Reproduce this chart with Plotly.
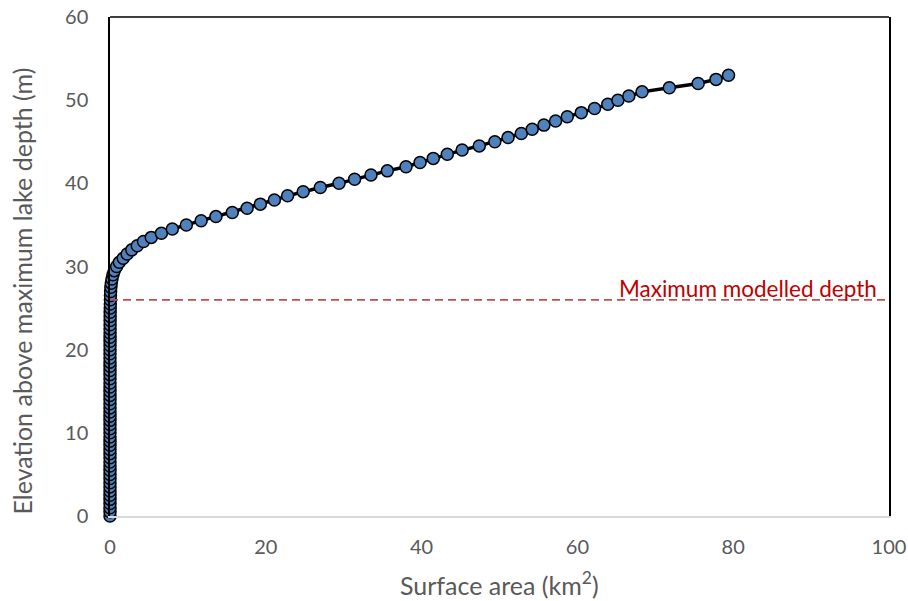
import plotly.graph_objects as go

# Elevation above maximum lake depth (m), every 0.5 m from 0 to 53
elevation = [i * 0.5 for i in range(0, 107)]
# Surface area (km2)
area = [
    # 0 .. 19.5 m
    0.00, 0.00, 0.00, 0.00, 0.00, 0.00, 0.00, 0.00, 0.00, 0.00,
    0.00, 0.00, 0.00, 0.00, 0.00, 0.00, 0.00, 0.00, 0.00, 0.00,
    0.00, 0.00, 0.00, 0.00, 0.00, 0.00, 0.00, 0.00, 0.00, 0.00,
    0.00, 0.00, 0.00, 0.00, 0.00, 0.00, 0.00, 0.00, 0.00, 0.00,
    # 20 .. 24.5 m
    0.005, 0.005, 0.008, 0.008, 0.01, 0.01, 0.012, 0.015, 0.018, 0.02,
    # 25 .. 27.5 m
    0.03, 0.04, 0.05, 0.06, 0.08, 0.11,
    # 28 .. 32.5 m
    0.16, 0.25, 0.38, 0.55, 0.85, 1.20, 1.70, 2.20, 2.80, 3.50,
    # 33 .. 37.5 m
    4.30, 5.30, 6.60, 8.00, 9.80, 11.7, 13.6, 15.7, 17.6, 19.3,
    # 38 .. 42.5 m
    21.1, 22.8, 24.8, 27.0, 29.4, 31.4, 33.5, 35.6, 38.0, 39.8,
    # 43 .. 47.5 m
    41.5, 43.3, 45.2, 47.4, 49.4, 51.1, 52.8, 54.2, 55.7, 57.2,
    # 48 .. 52.5 m
    58.7, 60.5, 62.2, 63.9, 65.2, 66.6, 68.3, 71.8, 75.5, 77.8,
    # 53 m
    79.4,
]

max_depth = 26.0
depth_label = "Maximum modelled depth"
x_title = "Surface area (km<sup>2</sup>)"
y_title = "Elevation above maximum lake depth (m)"
x_ticks = [0, 20, 40, 60, 80, 100]
y_ticks = [0, 10, 20, 30, 40, 50, 60]

font_family = "Lato, Open Sans, sans-serif"
grey = "#595959"

fig = go.Figure()
fig.add_trace(go.Scatter(
    x=area, y=elevation, mode="lines+markers",
    line=dict(color="black", width=3.5),
    marker=dict(size=12, color="#4F81BD", line=dict(color="black", width=1.5)),
    cliponaxis=False, showlegend=False,
))
fig.add_trace(go.Scatter(
    x=[0, 100], y=[max_depth, max_depth], mode="lines",
    line=dict(color="#C0504D", width=1.75, dash="8px,5px"),
    showlegend=False, hoverinfo="skip",
))
fig.add_annotation(
    x=100, y=max_depth, xref="x", yref="y", text=depth_label,
    showarrow=False, xanchor="right", yanchor="bottom", xshift=-10, yshift=-4,
    font=dict(color="#C00000", size=22.5, family=font_family),
)
# axis titles
fig.add_annotation(
    x=0.5, y=0, xref="paper", yref="paper", text=x_title, showarrow=False,
    xanchor="center", yanchor="middle", yshift=-67,
    font=dict(size=25, color=grey, family=font_family),
)
fig.add_annotation(
    x=0, y=0.5, xref="paper", yref="paper", text=y_title, showarrow=False,
    textangle=-90, xanchor="center", yanchor="middle", xshift=-89, yshift=-25,
    font=dict(size=25, color=grey, family=font_family),
)
# top border of plot area
fig.add_shape(type="line", xref="paper", yref="paper", x0=0, x1=1, y0=1, y1=1,
              line=dict(color="black", width=1.5))

fig.update_layout(
    width=908, height=601,
    margin=dict(l=110, r=19, t=17, b=85),
    paper_bgcolor="white", plot_bgcolor="white",
    font=dict(family=font_family, color=grey),
    xaxis=dict(
        range=[0, 100], tickvals=x_ticks, showgrid=False, zeroline=False,
        showline=True, linecolor="#D9D9D9", linewidth=1.5, automargin=False,
        ticks="", tickfont=dict(size=20, color=grey), ticklabelstandoff=12,
    ),
    yaxis=dict(
        range=[0, 60], tickvals=y_ticks, showgrid=False, zeroline=False,
        showline=True, linecolor="black", linewidth=1.5, mirror=True, automargin=False,
        ticks="", tickfont=dict(size=20, color=grey), ticklabelstandoff=16,
    ),
)
fig.write_html("out.html")
